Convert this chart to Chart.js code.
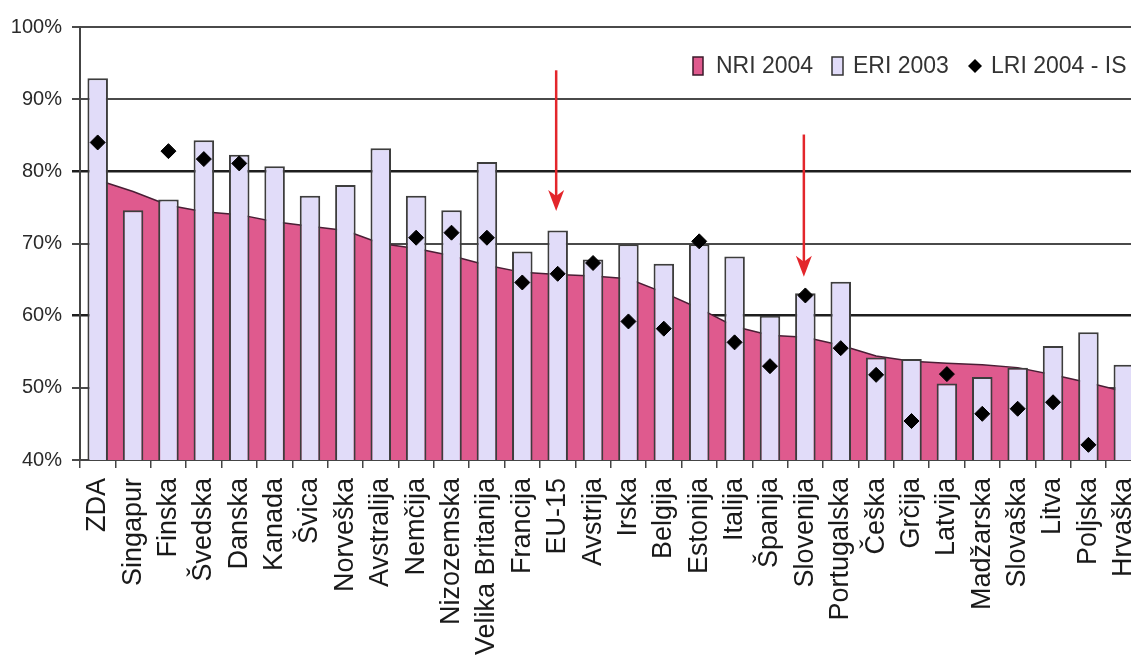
<!DOCTYPE html>
<html>
<head>
<meta charset="utf-8">
<script src="https://cdn.jsdelivr.net/npm/chart.js@4.4.1/dist/chart.umd.min.js"></script>
<style>
html,body{margin:0;padding:0;background:#fff;overflow:hidden;}
#wrap{width:1150px;height:661px;}
</style>
</head>
<body>
<div id="wrap"><canvas id="c" width="1150" height="661"></canvas></div>
<script>
const categories = ['ZDA','Singapur','Finska','Švedska','Danska','Kanada','Švica','Norveška','Avstralija','Nemčija','Nizozemska','Velika Britanija','Francija','EU-15','Avstrija','Irska','Belgija','Estonija','Italija','Španija','Slovenija','Portugalska','Češka','Grčija','Latvija','Madžarska','Slovaška','Litva','Poljska','Hrvaška'];

const nri2004 = [78.8, 77.2, 75.3, 74.4, 74.0, 73.0, 72.4, 71.8, 70.0, 69.3, 68.3, 67.0, 66.0, 65.7, 65.5, 65.1, 63.2, 61.0, 58.5, 57.3, 57.0, 55.9, 54.4, 53.7, 53.4, 53.2, 52.8, 51.8, 50.7, 49.5];

const eri2003 = [92.9, 74.6, 76.1, 84.3, 82.3, 80.7, 76.6, 78.1, 83.2, 76.6, 74.6, 81.3, 68.9, 71.8, 67.8, 69.9, 67.2, 69.9, 68.2, 60.0, 63.1, 64.7, 54.2, 54.0, 50.6, 51.5, 52.8, 55.8, 57.7, 53.2];

const lri2004 = [84.0, null, 82.8, 81.7, 81.1, null, null, null, null, 70.8, 71.5, 70.8, 64.6, 65.8, 67.3, 59.2, 58.2, 70.3, 56.3, 53.0, 62.8, 55.5, 51.8, 45.4, 51.9, 46.4, 47.1, 48.0, 42.1, null];

const yTicks = [40, 50, 60, 70, 80, 90, 100];

const seriesLabels = ['NRI 2004', 'ERI 2003', 'LRI 2004 - IS'];

const arrows = [
  {category: 'EU-15', from: 94.0, to: 74.5},
  {category: 'Slovenija', from: 85.1, to: 65.4}
];

const NRI_COLOR = '#df5a8e';
const ERI_COLOR = '#e1dcf9';
const FONT = '"Liberation Sans", Arial, Helvetica, sans-serif';

const arrowPlugin = {
  id: 'arrows',
  afterDatasetsDraw(chart) {
    const {ctx, scales: {x, y}} = chart;
    arrows.forEach(a => {
      const px = x.getPixelForValue(categories.indexOf(a.category)) - 1.5;
      const y0 = y.getPixelForValue(a.from);
      const y1 = y.getPixelForValue(a.to);
      ctx.save();
      ctx.strokeStyle = '#e3262b';
      ctx.fillStyle = '#e3262b';
      ctx.lineWidth = 2.5;
      ctx.beginPath();
      ctx.moveTo(px, y0);
      ctx.lineTo(px, y1 - 12);
      ctx.stroke();
      ctx.beginPath();
      ctx.moveTo(px, y1);
      ctx.lineTo(px - 8, y1 - 21);
      ctx.lineTo(px, y1 - 15);
      ctx.lineTo(px + 8, y1 - 21);
      ctx.closePath();
      ctx.fill();
      ctx.restore();
    });
  }
};

const legendPlugin = {
  id: 'customLegend',
  afterDraw(chart) {
    const ctx = chart.ctx;
    const top = chart.chartArea.top;
    const cy = top + 39;
    const ds = chart.data.datasets;
    const byLabel = l => ds.find(d => d.label === l);
    ctx.save();
    ctx.font = '23px ' + FONT;
    ctx.textBaseline = 'middle';
    ctx.fillStyle = '#333';
    const nri = byLabel(seriesLabels[0]);
    ctx.fillStyle = nri.backgroundColor;
    ctx.fillRect(693, cy - 9, 10, 18);
    ctx.strokeStyle = '#3a1a2a';
    ctx.lineWidth = 1.5;
    ctx.strokeRect(693, cy - 9, 10, 18);
    ctx.fillStyle = '#333';
    ctx.fillText(nri.label, 716, cy + 1);
    const eri = byLabel(seriesLabels[1]);
    ctx.fillStyle = eri.backgroundColor;
    ctx.fillRect(832, cy - 9, 11, 18);
    ctx.strokeStyle = '#333';
    ctx.strokeRect(832, cy - 9, 11, 18);
    ctx.fillStyle = '#333';
    ctx.fillText(eri.label, 853, cy + 1);
    const lri = byLabel(seriesLabels[2]);
    ctx.fillStyle = '#000';
    ctx.beginPath();
    ctx.moveTo(975, cy - 7);
    ctx.lineTo(982, cy);
    ctx.lineTo(975, cy + 7);
    ctx.lineTo(968, cy);
    ctx.closePath();
    ctx.fill();
    ctx.fillStyle = '#333';
    ctx.fillText(lri.label, 991, cy + 1);
    ctx.restore();
  }
};

const strongLine = v => v === 80 || v === 60;

new Chart(document.getElementById('c'), {
  type: 'bar',
  data: {
    labels: categories,
    datasets: [
      {
        type: 'line',
        label: seriesLabels[2],
        data: lri2004,
        showLine: false,
        pointStyle: 'rectRot',
        pointRadius: 7.5,
        pointBackgroundColor: '#000',
        pointBorderColor: '#000',
        pointBorderWidth: 1,
        backgroundColor: '#000',
        borderColor: '#000',
        order: 0
      },
      {
        type: 'bar',
        label: seriesLabels[1],
        data: eri2003,
        backgroundColor: ERI_COLOR,
        borderColor: '#3d3d3d',
        borderWidth: 2,
        barPercentage: 0.58,
        categoryPercentage: 1,
        order: 1
      },
      {
        type: 'line',
        label: seriesLabels[0],
        data: nri2004,
        fill: 'start',
        backgroundColor: NRI_COLOR,
        borderColor: '#4a1e35',
        borderWidth: 1.5,
        pointRadius: 0,
        tension: 0,
        order: 2
      }
    ]
  },
  options: {
    responsive: false,
    devicePixelRatio: 1,
    animation: false,
    layout: {padding: {top: 27, right: 3, left: 0, bottom: 0}},
    plugins: {
      legend: {display: false},
      tooltip: {enabled: false}
    },
    scales: {
      x: {
        offset: true,
        afterFit: s => { s.height = 201; s.paddingLeft = 0; s.paddingRight = 0; },
        grid: {
          display: true,
          offset: true,
          drawOnChartArea: false,
          drawTicks: true,
          tickLength: 8,
          color: '#444',
          lineWidth: 1.5
        },
        border: {display: true, color: '#444', width: 2},
        ticks: {
          autoSkip: false,
          minRotation: 90,
          maxRotation: 90,
          padding: 10,
          color: '#1a1a1a',
          font: {family: FONT, size: 27}
        }
      },
      y: {
        min: 40,
        max: 100,
        afterFit: s => { s.width = 80; },
        afterBuildTicks: s => { s.ticks = yTicks.map(v => ({value: v})); },
        grid: {
          color: c => (c.tick && strongLine(c.tick.value)) ? '#1e1e1e' : '#4a4a4a',
          lineWidth: c => (c.tick && strongLine(c.tick.value)) ? 2.5 : 2,
          tickLength: 8
        },
        border: {display: true, color: '#444', width: 2},
        ticks: {
          padding: 10,
          color: '#2a2a2a',
          font: {family: FONT, size: 20},
          callback: v => v + '%'
        }
      }
    }
  },
  plugins: [arrowPlugin, legendPlugin]
});
</script>
</body>
</html>
